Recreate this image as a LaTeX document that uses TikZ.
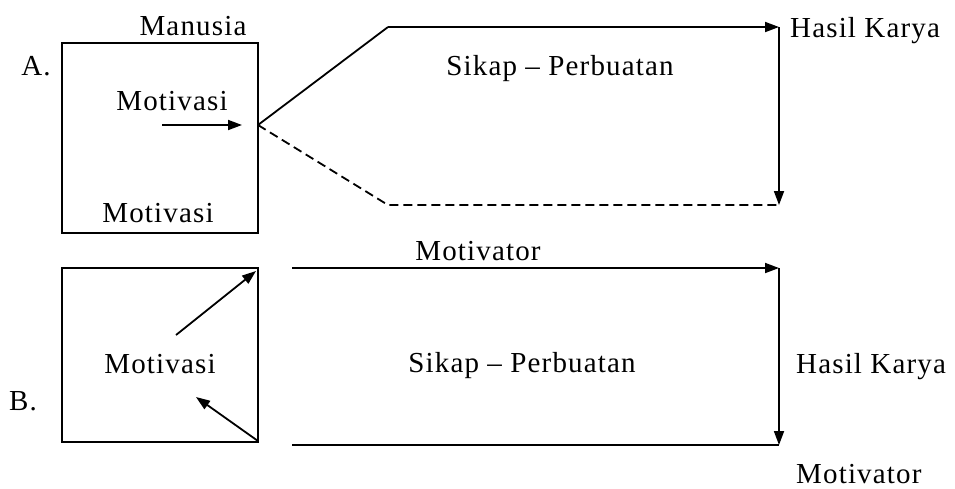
\documentclass[tikz,border=0pt]{standalone}
\usepackage{fontspec}
\setmainfont{Liberation Serif}[LetterSpace=4]
\usetikzlibrary{arrows.meta}
\tikzset{
  lbl/.style={inner sep=0pt, anchor=base, font=\fontsize{29}{31}\selectfont},
  line/.style={line width=1.8pt, black},
  arr/.style={line, -{Triangle[length=14pt,width=10pt]}},
  dsh/.style={line, dash pattern=on 9pt off 5pt},
  frame/.style={line, draw, inner sep=0pt}
}
\begin{document}
\begin{tikzpicture}[x=1pt,y=-1pt]
\path[use as bounding box] (0,0) rectangle (955,488);

% ---------- part A ----------
\node[frame, minimum width=196pt, minimum height=190pt] (boxA) at (160,138) {};
\node[lbl] (manusia) at (193,35) {Manusia};
\node[lbl] (labA) at (36,75) {A.};
\node[lbl] (motA1) at (172,110) {Motivasi};
\node[lbl] (motA2) at (158,222) {Motivasi};
\coordinate (inA1) at (162,125);
\coordinate (inA2) at (242,125);
\draw[arr] (inA1) -- (inA2);

\coordinate (P) at (258,125);
\coordinate (upA) at (388,27);
\coordinate (upArrow) at (779,27);
\coordinate (lowA) at (388,205);
\coordinate (lowEnd) at (779,205);
\node[lbl] (sikapA) at (560,75) {Sikap -- Perbuatan};
\node[lbl, anchor=base west] (hasilA) at (790,37) {Hasil Karya};

\draw[line] (P) -- (upA);
\draw[arr] (upA) -- (upArrow);
\draw[arr] (upArrow) -- (lowEnd);
\draw[dsh] (P) -- (lowA) -- (lowEnd);

% ---------- part B ----------
\node[frame, minimum width=196pt, minimum height=174pt] (boxB) at (160,355) {};
\node[lbl] (labB) at (23,410) {B.};
\node[lbl] (motB) at (160,373) {Motivasi};
\coordinate (b1s) at (176,335);
\coordinate (b1e) at (256,271);
\coordinate (b2s) at (258,441);
\coordinate (b2e) at (196,397);
\draw[arr] (b1s) -- (b1e);
\draw[arr] (b2s) -- (b2e);

\coordinate (topB) at (292,268);
\coordinate (topBend) at (779,268);
\coordinate (botB) at (292,445);
\coordinate (botBend) at (779,445);
\node[lbl] (motorTop) at (478,260) {Motivator};
\node[lbl] (sikapB) at (522,372) {Sikap -- Perbuatan};
\node[lbl, anchor=base west] (hasilB) at (796,373) {Hasil Karya};
\node[lbl, anchor=base west] (motorBot) at (796,483) {Motivator};

\draw[arr] (topB) -- (topBend);
\draw[arr] (topBend) -- (botBend);
\draw[line] (botB) -- (botBend);
\end{tikzpicture}
\end{document}
